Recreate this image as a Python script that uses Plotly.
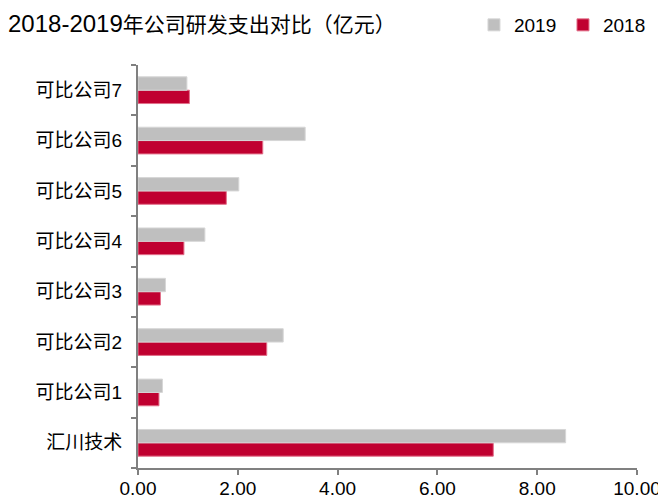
import plotly.graph_objects as go

# 研发支出（亿元）
companies = ["汇川技术", "可比公司1", "可比公司2", "可比公司3",
             "可比公司4", "可比公司5", "可比公司6", "可比公司7"]
rd_2019 = [8.57, 0.49, 2.91, 0.55, 1.34, 2.02, 3.35, 0.98]
rd_2018 = [7.12, 0.42, 2.58, 0.45, 0.92, 1.77, 2.50, 1.03]
x_ticks = [0, 2, 4, 6, 8, 10]

latin = "Liberation Sans, Arial, sans-serif"
cjk = "Liberation Sans, Noto Sans CJK SC, sans-serif"

fig = go.Figure()
# 2018 first so that 2019 sits on top inside each group
fig.add_trace(go.Bar(
    y=companies, x=rd_2018, name="2018", orientation="h",
    marker=dict(color="#C00030", line=dict(color="#E2708A", width=1)),
))
fig.add_trace(go.Bar(
    y=companies, x=rd_2019, name="2019", orientation="h",
    marker=dict(color="#BFBFBF", line=dict(color="#D6D6D6", width=1)),
))

# page body has an 8px margin, so the figure is 8px smaller each way
fig.update_layout(
    width=658, height=492,
    margin=dict(l=130, r=29, t=57, b=32, autoexpand=False),
    paper_bgcolor="white", plot_bgcolor="white",
    barmode="group", bargap=0.47, bargroupgap=0,
    title=dict(
        text="<span style='font-size:24px'>2018-2019</span>"
             "<span style='font-family:Noto Sans CJK SC;font-size:21px'>年公司研发支出对比（亿元）</span>",
        font=dict(family=latin, size=24, color="black"),
        x=0.0, xanchor="left", xref="container",
        y=1 - 16 / 492, yanchor="middle", yref="container",
    ),
    legend=dict(
        orientation="h", traceorder="reversed",
        x=1.03, xanchor="right", y=1.0 + 40 / 403, yanchor="middle",
        font=dict(family=latin, size=19, color="black"),
        itemwidth=30, entrywidth=44,
    ),
    xaxis=dict(
        range=[0, 10], tickvals=x_ticks, tickformat=".2f",
        showgrid=False, zeroline=False, automargin=False,
        showline=True, linecolor="#808080", linewidth=2,
        ticks="outside", ticklen=5, tickwidth=2, tickcolor="#808080",
        ticklabelstandoff=-3,
        tickfont=dict(family=latin, size=19, color="black"),
    ),
    yaxis=dict(
        showgrid=False, zeroline=False, automargin=False,
        showline=True, linecolor="#808080", linewidth=2,
        ticks="outside", ticklen=5, tickwidth=2, tickcolor="#808080",
        tickson="boundaries", ticklabelstandoff=10,
        tickfont=dict(family=cjk, size=19, color="black"),
    ),
)

fig.write_html("out.html")
